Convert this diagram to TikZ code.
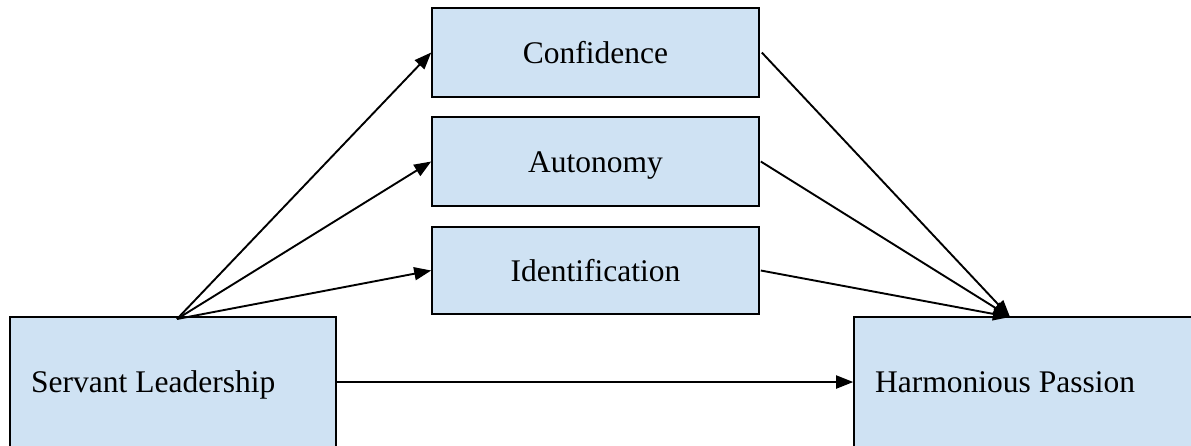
\documentclass[tikz,border=0pt]{standalone}
\usepackage{fontspec}
\setmainfont{Liberation Serif}
\usetikzlibrary{arrows.meta}
\definecolor{boxblue}{RGB}{207,226,243}
\tikzset{
  boxnode/.style={draw=black, line width=1.6pt, fill=boxblue, inner sep=0pt},
  lbl/.style={font=\fontsize{31.5}{36}\selectfont, inner sep=0pt},
  conn/.style={line width=1.9pt, -{Triangle[length=17pt,width=13pt]}}
}
\begin{document}
\begin{tikzpicture}[x=1pt,y=-1pt]
\useasboundingbox (0,0) rectangle (1191,445);
% big boxes
\node[boxnode, minimum width=326pt, minimum height=130pt] (sl) at (173,382) {};
\node[boxnode, minimum width=342pt, minimum height=130pt] (hp) at (1025,382) {};
\node[lbl, anchor=base west] (sltext) at (31,392) {Servant Leadership};
\node[lbl, anchor=base west] (hptext) at (875,392) {Harmonious Passion};
% mediator boxes
\node[boxnode, minimum width=327pt, minimum height=89pt] (conf) at (595.5,52.5) {};
\node[boxnode, minimum width=327pt, minimum height=89pt] (auto) at (595.5,161.5) {};
\node[boxnode, minimum width=327pt, minimum height=87pt] (iden) at (595.5,270.5) {};
\node[lbl, anchor=base] (conftext) at (595.5,63) {Confidence};
\node[lbl, anchor=base] (autotext) at (595.5,172) {Autonomy};
\node[lbl, anchor=base] (identext) at (595.5,281) {Identification};
% connectors
\coordinate (s) at (177,319);
\coordinate (t) at (1010,317);
\draw[conn] (s) -- (conf.west);
\draw[conn] (s) -- (auto.west);
\draw[conn] (s) -- (iden.west);
\draw[conn] ([xshift=2pt]conf.east) -- (t);
\draw[conn] ([xshift=1pt]auto.east) -- (t);
\draw[conn] ([xshift=1pt]iden.east) -- (t);
\draw[conn] (sl.east) -- (hp.west);
\end{tikzpicture}
\end{document}
